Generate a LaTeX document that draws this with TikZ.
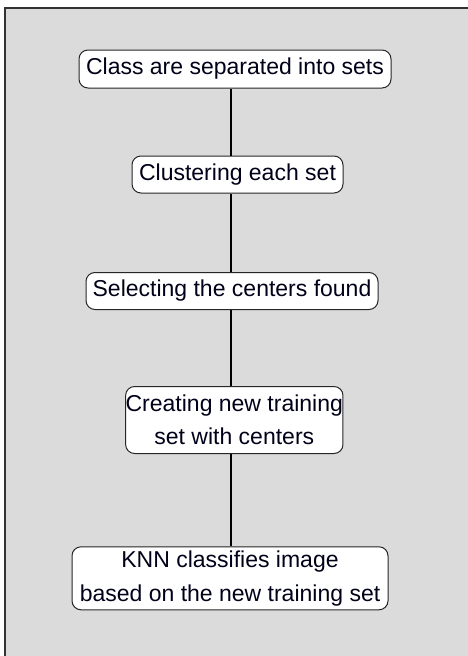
\documentclass[tikz,border=0pt]{standalone}
\usepackage{fontspec}
\setmainfont{Liberation Sans}
\begin{document}
\begin{tikzpicture}[x=1pt,y=-1pt,
  stepbox/.style={draw=black!85, line width=1pt, fill=white, rounded corners=9pt,
    inner sep=0pt, align=center, font=\fontsize{23}{33.5}\selectfont, text=black!90!blue},
  link/.style={draw=black, line width=1.2pt}]
\useasboundingbox (0,0) rectangle (467,656);
\fill[black!14] (5,8) rectangle (470,660);
\draw[black!80, line width=2pt] (5,660) -- (5,8) -- (470,8);
\coordinate (axis) at (231,0);
\node[stepbox, minimum width=312pt, minimum height=38pt] (n1) at (235,69) {Class are separated into sets};
\node[stepbox, minimum width=211pt, minimum height=37pt] (n2) at (237.5,174.5) {Clustering each set};
\node[stepbox, minimum width=292pt, minimum height=37pt] (n3) at (232,291) {Selecting the centers found};
\node[stepbox, minimum width=217pt, minimum height=67pt] (n4) at (234.3,420) {Creating new training\\set with centers};
\node[stepbox, minimum width=316pt, minimum height=63pt] (n5) at (230,578.3) {KNN classifies image\\based on the new training set};
\draw[link] (n1.south -| axis) -- (n2.north -| axis);
\draw[link] (n2.south -| axis) -- (n3.north -| axis);
\draw[link] (n3.south -| axis) -- (n4.north -| axis);
\draw[link] (n4.south -| axis) -- (n5.north -| axis);
\end{tikzpicture}
\end{document}
